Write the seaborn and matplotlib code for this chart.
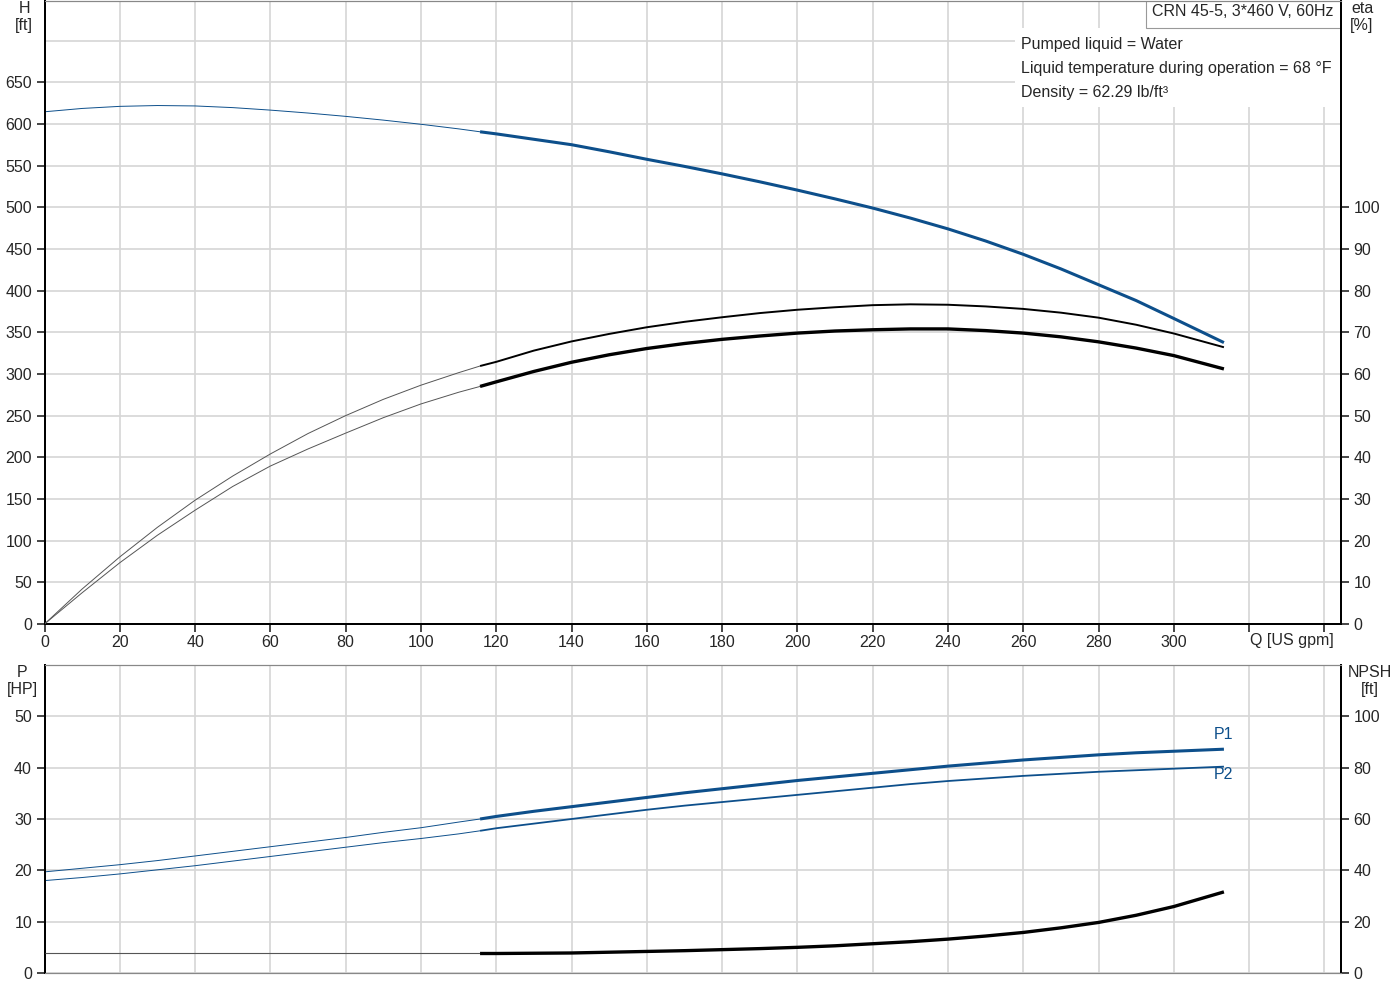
import numpy as np
import pandas as pd
import seaborn as sns
import matplotlib.pyplot as plt
from matplotlib.patches import Rectangle

# flow [US gpm]; thin part = outside recommended range, thick part = operating range
q_thin = [0, 10, 20, 30, 40, 50, 60, 70, 80, 90, 100, 110, 115.7]
q_thick = [115.7, 120, 130, 140, 150, 160, 170, 180, 190, 200, 210,
           220, 230, 240, 250, 260, 270, 280, 290, 300, 313.3]

# head H [ft]
h_thin = [614.5, 618.5, 621.0, 622.0, 621.5, 619.5, 616.5, 613.0, 609.0, 604.5, 599.5, 594.0, 590.5]
h_thick = [590.5, 588.0, 581.5, 575.0, 566.5, 557.5, 549.0, 540.0, 530.5, 520.5, 510.0,
           499.0, 487.0, 474.0, 459.5, 443.5, 426.0, 407.0, 388.0, 366.5, 337.6]

# efficiency eta [%], upper and lower curve
eta1_thin = [0, 8.4, 16.1, 23.2, 29.7, 35.5, 40.8, 45.7, 50.0, 53.9, 57.3, 60.3, 61.9]
eta1_thick = [61.9, 62.9, 65.6, 67.8, 69.6, 71.2, 72.5, 73.6, 74.6, 75.4, 76.0,
              76.5, 76.7, 76.6, 76.2, 75.6, 74.7, 73.5, 71.8, 69.7, 66.4]
eta2_thin = [0, 7.5, 14.7, 21.3, 27.3, 33.0, 37.9, 42.0, 45.8, 49.5, 52.8, 55.6, 57.0]
eta2_thick = [57.0, 58.1, 60.6, 62.8, 64.6, 66.1, 67.3, 68.3, 69.1, 69.8, 70.3,
              70.6, 70.8, 70.8, 70.4, 69.8, 68.9, 67.7, 66.2, 64.4, 61.2]

# power P [HP]
p1_thin = [19.7, 20.4, 21.1, 21.9, 22.8, 23.7, 24.6, 25.5, 26.4, 27.4, 28.3, 29.4, 30.0]
p1_thick = [30.0, 30.5, 31.5, 32.4, 33.3, 34.2, 35.1, 35.9, 36.7, 37.5, 38.2,
            38.9, 39.6, 40.3, 40.9, 41.5, 42.0, 42.5, 42.9, 43.2, 43.6]
p2_thin = [18.0, 18.6, 19.3, 20.1, 20.9, 21.8, 22.7, 23.6, 24.5, 25.4, 26.2, 27.1, 27.7]
p2_thick = [27.7, 28.2, 29.1, 30.0, 30.9, 31.8, 32.6, 33.3, 34.0, 34.7, 35.4,
            36.1, 36.8, 37.4, 37.9, 38.4, 38.8, 39.2, 39.5, 39.8, 40.2]

# NPSH [ft]
npsh_thin = [7.6] * 13
npsh_thick = [7.6, 7.6, 7.7, 7.8, 8.1, 8.4, 8.7, 9.1, 9.5, 10.0, 10.6,
              11.4, 12.2, 13.2, 14.4, 15.8, 17.6, 19.7, 22.5, 25.9, 31.6]

x_ticks = list(range(0, 341, 20))
x_labels = [str(v) for v in range(0, 301, 20)] + ['', '']
h_ticks = list(range(0, 651, 50))
eta_ticks = list(range(0, 101, 10))
p_ticks = list(range(0, 51, 10))
npsh_ticks = list(range(0, 101, 20))

info_lines = ['Pumped liquid = Water',
              'Liquid temperature during operation = 68 °F',
              'Density = 62.29 lb/ft³']
title_box = 'CRN 45-5, 3*460 V, 60Hz'

sns.set_style('white')
plt.rcParams['font.family'] = ['Liberation Sans', 'DejaVu Sans']
plt.rcParams['font.size'] = 11.5

BLUE = '#0d4f8b'
GRID = '#d6d6d6'
FS = 11.5

fig = plt.figure(figsize=(14, 10), dpi=100)
W, H = 1400, 1000
xmax = 344.4

ax1 = fig.add_axes([44.5 / W, 1 - 624 / H, 1296.5 / W, 623.5 / H])
ax1e = ax1.twinx()
ax2 = fig.add_axes([44.5 / W, 1 - 973 / H, 1296.5 / W, 308 / H])
ax2n = ax2.twinx()


def style_axes(ax, axr, ylim, yticks, ygrid, rticks, rlim, show_x):
    ax.set_xlim(0, xmax)
    ax.set_ylim(*ylim)
    axr.set_ylim(*rlim)
    ax.set_xticks(x_ticks)
    ax.set_yticks(yticks)
    ax.set_yticks(ygrid, minor=True)
    axr.set_yticks(rticks)
    ax.set_axisbelow(True)
    ax.grid(True, which='both', color=GRID, lw=1.2)
    axr.grid(False)
    for a in (ax, axr):
        for s in a.spines.values():
            s.set_color('black')
            s.set_linewidth(1.4)
        a.spines['top'].set_color('#888888')
        a.spines['top'].set_linewidth(0.8)
        if not show_x:
            a.spines['bottom'].set_color('#888888')
            a.spines['bottom'].set_linewidth(0.8)
    ax.tick_params(axis='y', which='major', direction='out', length=6, width=1.2,
                   labelsize=FS, pad=3, left=True)
    ax.tick_params(axis='y', which='minor', length=0)
    axr.tick_params(axis='y', direction='out', length=6, width=1.2,
                    labelsize=FS, pad=3, right=True)
    if show_x:
        ax.set_xticklabels(x_labels)
        ax.tick_params(axis='x', direction='out', length=6, width=1.2,
                       labelsize=FS, pad=2, bottom=True)
    else:
        ax.tick_params(axis='x', length=0, labelbottom=False)
    ax.set_xlabel('')
    ax.set_ylabel('')
    axr.set_ylabel('')


def curve(ax, q, v, color, lw):
    sns.lineplot(x=q, y=v, ax=ax, color=color, linewidth=lw, estimator=None,
                 sort=False, solid_capstyle='butt', zorder=3)


style_axes(ax1, ax1e, (0, 748), h_ticks, list(range(0, 701, 50)),
           eta_ticks, (0, 748 / 5), True)
style_axes(ax2, ax2n, (0, 60), p_ticks, p_ticks, npsh_ticks, (0, 120), False)

# white panels behind the texts
ax1.add_patch(Rectangle(((1015 - 44.5) / 1296.5, (624 - 107) / 623.5),
                        1 - (1015 - 44.5) / 1296.5, (107 - 28) / 623.5,
                        transform=ax1.transAxes, facecolor='white',
                        edgecolor='none', zorder=1))
ax1.add_patch(Rectangle(((1146 - 44.5) / 1296.5, (624 - 28) / 623.5),
                        1 - (1146 - 44.5) / 1296.5, 28 / 623.5,
                        transform=ax1.transAxes, facecolor='white',
                        edgecolor='#999999', lw=0.8, zorder=1))

# top panel curves
curve(ax1, q_thin, h_thin, BLUE, 0.7)
curve(ax1, q_thick, h_thick, BLUE, 2.2)
curve(ax1e, q_thin, eta1_thin, '#555555', 0.7)
curve(ax1e, q_thick, eta1_thick, 'black', 1.4)
curve(ax1e, q_thin, eta2_thin, '#555555', 0.7)
curve(ax1e, q_thick, eta2_thick, 'black', 2.4)

# bottom panel curves
curve(ax2, q_thin, p1_thin, BLUE, 0.7)
curve(ax2, q_thick, p1_thick, BLUE, 2.2)
curve(ax2, q_thin, p2_thin, BLUE, 0.7)
curve(ax2, q_thick, p2_thick, BLUE, 1.3)
curve(ax2n, q_thin, npsh_thin, '#555555', 0.8)
curve(ax2n, q_thick, npsh_thick, 'black', 2.4)

ax2.text(q_thick[-1], 46.4, 'P1', color=BLUE, fontsize=FS, ha='center', va='center')
ax2.text(q_thick[-1], 38.6, 'P2', color=BLUE, fontsize=FS, ha='center', va='center')

# axis titles
fig.text(24 / W, 1 - 1 / H, 'H\n[ft]', ha='center', va='top', fontsize=FS, linespacing=1.2)
fig.text(1362 / W, 1 - 1 / H, 'eta\n[%]', ha='center', va='top', fontsize=FS, linespacing=1.2)
fig.text(22 / W, 1 - 665 / H, 'P\n[HP]', ha='center', va='top', fontsize=FS, linespacing=1.2)
fig.text(1370 / W, 1 - 665 / H, 'NPSH\n[ft]', ha='center', va='top', fontsize=FS, linespacing=1.2)
fig.text(1292 / W, 1 - 640 / H, 'Q [US gpm]', ha='center', va='center', fontsize=FS)

fig.text(1243 / W, 1 - 12 / H, title_box, ha='center', va='center', fontsize=FS)
for i, line in enumerate(info_lines):
    fig.text(1021 / W, 1 - (44 + 24 * i) / H, line, ha='left', va='center', fontsize=FS)

fig.savefig('out.png', dpi=100)
